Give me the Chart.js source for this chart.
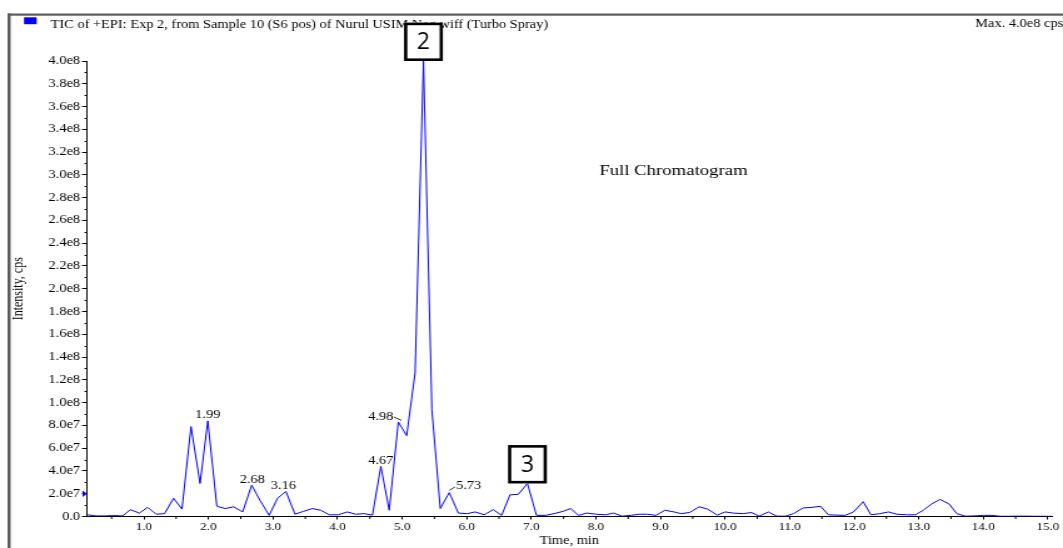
<!DOCTYPE html>
<html>
<head>
<meta charset="utf-8">
<script src="https://cdn.jsdelivr.net/npm/chart.js@4.4.0/dist/chart.umd.min.js"></script>
<style>
    html, body { margin: 0; padding: 0; background: #fff; overflow: hidden; }
    /* the original export is stretched sideways, so draw narrow and widen */
    #wrap { width: 850px; height: 548px; transform: scaleX(1.2506); transform-origin: 0 0; }
</style>
</head>
<body>
<div id="wrap"><canvas id="tic" width="850" height="548"></canvas></div>
<script>
const seriesLabel = 'TIC of +EPI: Exp 2, from Sample 10 (S6 pos) of Nurul USIM Neg.wiff (Turbo Spray)';
const maxLabel = 'Max. 4.0e8 cps.';
const panelNote = 'Full Chromatogram';

// retention time (min)
const timeMin = [0.13, 0.26, 0.40, 0.53, 0.67, 0.79, 0.93, 1.06, 1.19, 1.32, 1.46, 1.59, 1.73, 1.87, 1.99,
    2.13, 2.26, 2.39, 2.53, 2.67, 2.80, 2.94, 3.07, 3.20, 3.34, 3.47, 3.61, 3.74, 3.87, 4.01, 4.15, 4.28,
    4.41, 4.54, 4.67, 4.80, 4.94, 5.07, 5.20, 5.33, 5.46, 5.59, 5.73, 5.87, 6.01, 6.13, 6.27, 6.41, 6.54,
    6.67, 6.80, 6.94, 7.08, 7.22, 7.35, 7.49, 7.61, 7.73, 7.86, 8.00, 8.15, 8.27, 8.41, 8.54, 8.67, 8.80,
    8.93, 9.07, 9.21, 9.32, 9.45, 9.60, 9.73, 9.88, 10.00, 10.13, 10.28, 10.41, 10.53, 10.67, 10.80, 10.94,
    11.06, 11.21, 11.34, 11.48, 11.60, 11.73, 11.86, 11.99, 12.14, 12.26, 12.40, 12.53, 12.66, 12.82, 12.95,
    13.07, 13.20, 13.33, 13.47, 13.59, 13.72, 13.86, 14.00, 14.13, 14.26, 14.39, 14.52, 14.67, 14.80, 14.93, 15.06];

// total ion current (cps)
const intensity = [1.5e6, 0.5e6, 0.5e6, 0.8e6, 0.5e6, 6e6, 3e6, 8e6, 2e6, 2.5e6, 1.6e7, 6.5e6, 7.9e7, 2.9e7, 8.4e7,
    9e6, 7e6, 8.5e6, 4e6, 2.75e7, 1.4e7, 1e6, 1.6e7, 2.2e7, 2e6, 4.5e6, 7e6, 5.5e6, 1.5e6, 1.5e6, 4e6, 2e6,
    2.5e6, 1.2e6, 4.4e7, 5.5e6, 8.3e7, 7.1e7, 1.26e8, 4.0e8, 9.4e7, 7e6, 2.1e7, 3e6, 2.5e6, 4e6, 1.5e6, 6e6, 1e6,
    1.9e7, 1.95e7, 2.9e7, 1e6, 1e6, 2.5e6, 4.5e6, 7e6, 1e6, 3e6, 2e6, 1.5e6, 3e6, 0.3e6, 1e6, 2e6, 2e6,
    1e6, 5.5e6, 4e6, 2.5e6, 3.5e6, 8.5e6, 6.5e6, 1.2e6, 4e6, 3e6, 2.5e6, 3.5e6, 0.3e6, 4e6, 0.3e6, 0.3e6,
    2.5e6, 7.5e6, 8e6, 9e6, 1.5e6, 1.2e6, 1e6, 4e6, 1.3e7, 1.5e6, 2.5e6, 4e6, 2e6, 1.5e6, 1.5e6,
    5.5e6, 1.1e7, 1.5e7, 1.1e7, 2.5e6, 0.3e6, 0.5e6, 1e6, 1e6, 0.2e6, 0.2e6, 0.3e6, 0.3e6, 0.2e6, 0.2e6, 0.1e6];

const peakLabels = ['1.99', '2.68', '3.16', '4.67', '4.98', '5.73'];
const boxLabels = ['2', '3'];
const boxTimes = [5.33, 6.94];
const markerLevel = 2e7;

const SX = 1.2506;
const serif = "'Liberation Serif', 'Times New Roman', serif";
Chart.defaults.font.family = serif;
Chart.defaults.color = '#000';

function expLabel(v) {
    if (v === 0) return '0.0';
    const e = Math.floor(Math.log10(v) + 1e-9);
    return (v / Math.pow(10, e)).toFixed(1) + 'e' + e;
}

function nearestIndex(t) {
    let best = 0;
    timeMin.forEach((x, i) => { if (Math.abs(x - t) < Math.abs(timeMin[best] - t)) best = i; });
    return best;
}

const decor = {
    id: 'decor',
    afterDraw(chart) {
        const ctx = chart.ctx;
        const xs = chart.scales.x;
        const ys = chart.scales.y;
        const a = chart.chartArea;
        ctx.save();

        // minor ticks
        ctx.strokeStyle = '#000';
        ctx.lineWidth = 1;
        ctx.beginPath();
        for (let v = 1e7; v < ys.max; v += 2e7) {
            const y = Math.round(ys.getPixelForValue(v)) + 0.5;
            ctx.moveTo(a.left - 2, y);
            ctx.lineTo(a.left, y);
        }
        for (let t = 0.5; t < xs.max; t += 1) {
            const x = xs.getPixelForValue(t);
            ctx.moveTo(x, a.bottom);
            ctx.lineTo(x, a.bottom + 2.5);
        }
        ctx.stroke();

        // threshold marker on the y axis
        const my = ys.getPixelForValue(markerLevel);
        ctx.fillStyle = '#0000ff';
        ctx.beginPath();
        ctx.moveTo(a.left - 3.6, my - 3.3);
        ctx.lineTo(a.left, my);
        ctx.lineTo(a.left - 3.6, my + 3.3);
        ctx.closePath();
        ctx.fill();

        // window frame
        ctx.fillStyle = '#5a5a5a';
        ctx.fillRect(6, 13.5, 844, 2.2);
        ctx.fillRect(6, 13.5, 2.5, 535);

        // header line
        ctx.fillStyle = '#0000ff';
        ctx.fillRect(19.2, 17.3, 10.1, 6.9);
        ctx.fillStyle = '#000';
        ctx.font = '11.5px ' + serif;
        ctx.textBaseline = 'alphabetic';
        ctx.textAlign = 'left';
        ctx.fillText(seriesLabel, 40.5, 27.6);
        ctx.textAlign = 'right';
        ctx.fillText(maxLabel, 853, 27);

        ctx.textAlign = 'center';
        ctx.font = '15px ' + serif;
        ctx.fillText(panelNote, 538.5, 175);

        // peak apex labels
        ctx.font = '11.5px ' + serif;
        ctx.lineWidth = 0.8;
        peakLabels.forEach(lab => {
            const t = parseFloat(lab);
            const i = nearestIndex(t);
            const x = xs.getPixelForValue(t);
            const y = ys.getPixelForValue(intensity[i]);
            if (lab === '4.98') {
                ctx.textAlign = 'right';
                ctx.fillText(lab, x - 6, y - 2.4);
                ctx.beginPath();
                ctx.moveTo(x - 5.8, y - 5);
                ctx.lineTo(x + 0.5, y - 1.7);
                ctx.stroke();
            } else if (lab === '5.73') {
                ctx.beginPath();
                ctx.moveTo(x, y - 2.3);
                ctx.lineTo(x + 4.6, y - 5.6);
                ctx.stroke();
                ctx.textAlign = 'left';
                ctx.fillText(lab, x + 5.4, y - 3.3);
            } else {
                ctx.textAlign = 'center';
                ctx.fillText(lab, x, y - 2.5);
            }
        });

        // numbered boxes on peaks
        boxLabels.forEach((lab, k) => {
            const i = nearestIndex(boxTimes[k]);
            const x = xs.getPixelForValue(boxTimes[k]);
            const y = ys.getPixelForValue(intensity[i]);
            const w = 38.3 / SX, h = 38.4;
            ctx.fillStyle = '#fff';
            ctx.fillRect(x - w / 2, y - h, w, h);
            ctx.strokeStyle = '#000';
            ctx.lineWidth = 2.6;
            ctx.strokeRect(x - w / 2 + 1.1, y - h + 1.3, w - 2.2, h - 2.6);
            ctx.save();
            ctx.translate(x, y - h / 2);
            ctx.scale(1 / SX, 1);
            ctx.fillStyle = '#000';
            ctx.font = "23px 'Open Sans', 'Noto Sans', sans-serif";
            ctx.textAlign = 'center';
            ctx.textBaseline = 'middle';
            ctx.fillText(lab, 0, 1);
            ctx.restore();
        });

        ctx.restore();
    }
};

new Chart(document.getElementById('tic'), {
    type: 'line',
    data: {
        datasets: [{
            label: seriesLabel,
            data: timeMin.map((t, i) => ({ x: t, y: intensity[i] })),
            borderColor: '#0000ff',
            borderWidth: 1,
            pointRadius: 0,
            tension: 0,
            fill: false
        }]
    },
    options: {
        responsive: false,
        animation: false,
        devicePixelRatio: 1,
        layout: { padding: { left: 8, right: 9, top: 61, bottom: 0 } },
        plugins: { legend: { display: false }, tooltip: { enabled: false } },
        scales: {
            x: {
                type: 'linear',
                min: 0.12,
                max: 15.06,
                afterFit: s => { s.height = 31.5; },
                ticks: {
                    stepSize: 1, includeBounds: false, autoSkip: false, maxRotation: 0, padding: 1,
                    font: { size: 10.5 },
                    callback: v => v.toFixed(1)
                },
                grid: { drawOnChartArea: false, tickLength: 3, color: '#000' },
                border: { color: '#000', width: 1 },
                title: { display: true, text: 'Time, min', font: { size: 11.5 }, padding: 0 }
            },
            y: {
                min: 0,
                max: 4e8,
                afterFit: s => { s.width = 61.6; },
                ticks: {
                    stepSize: 2e7, autoSkip: false, padding: 1.5,
                    font: { size: 11.5 },
                    callback: v => expLabel(v)
                },
                grid: { drawOnChartArea: false, tickLength: 4, color: '#000' },
                border: { color: '#000', width: 1 },
                title: { display: true, text: 'Intensity, cps', font: { size: 12 }, padding: 0 }
            }
        }
    },
    plugins: [decor]
});
</script>
</body>
</html>
